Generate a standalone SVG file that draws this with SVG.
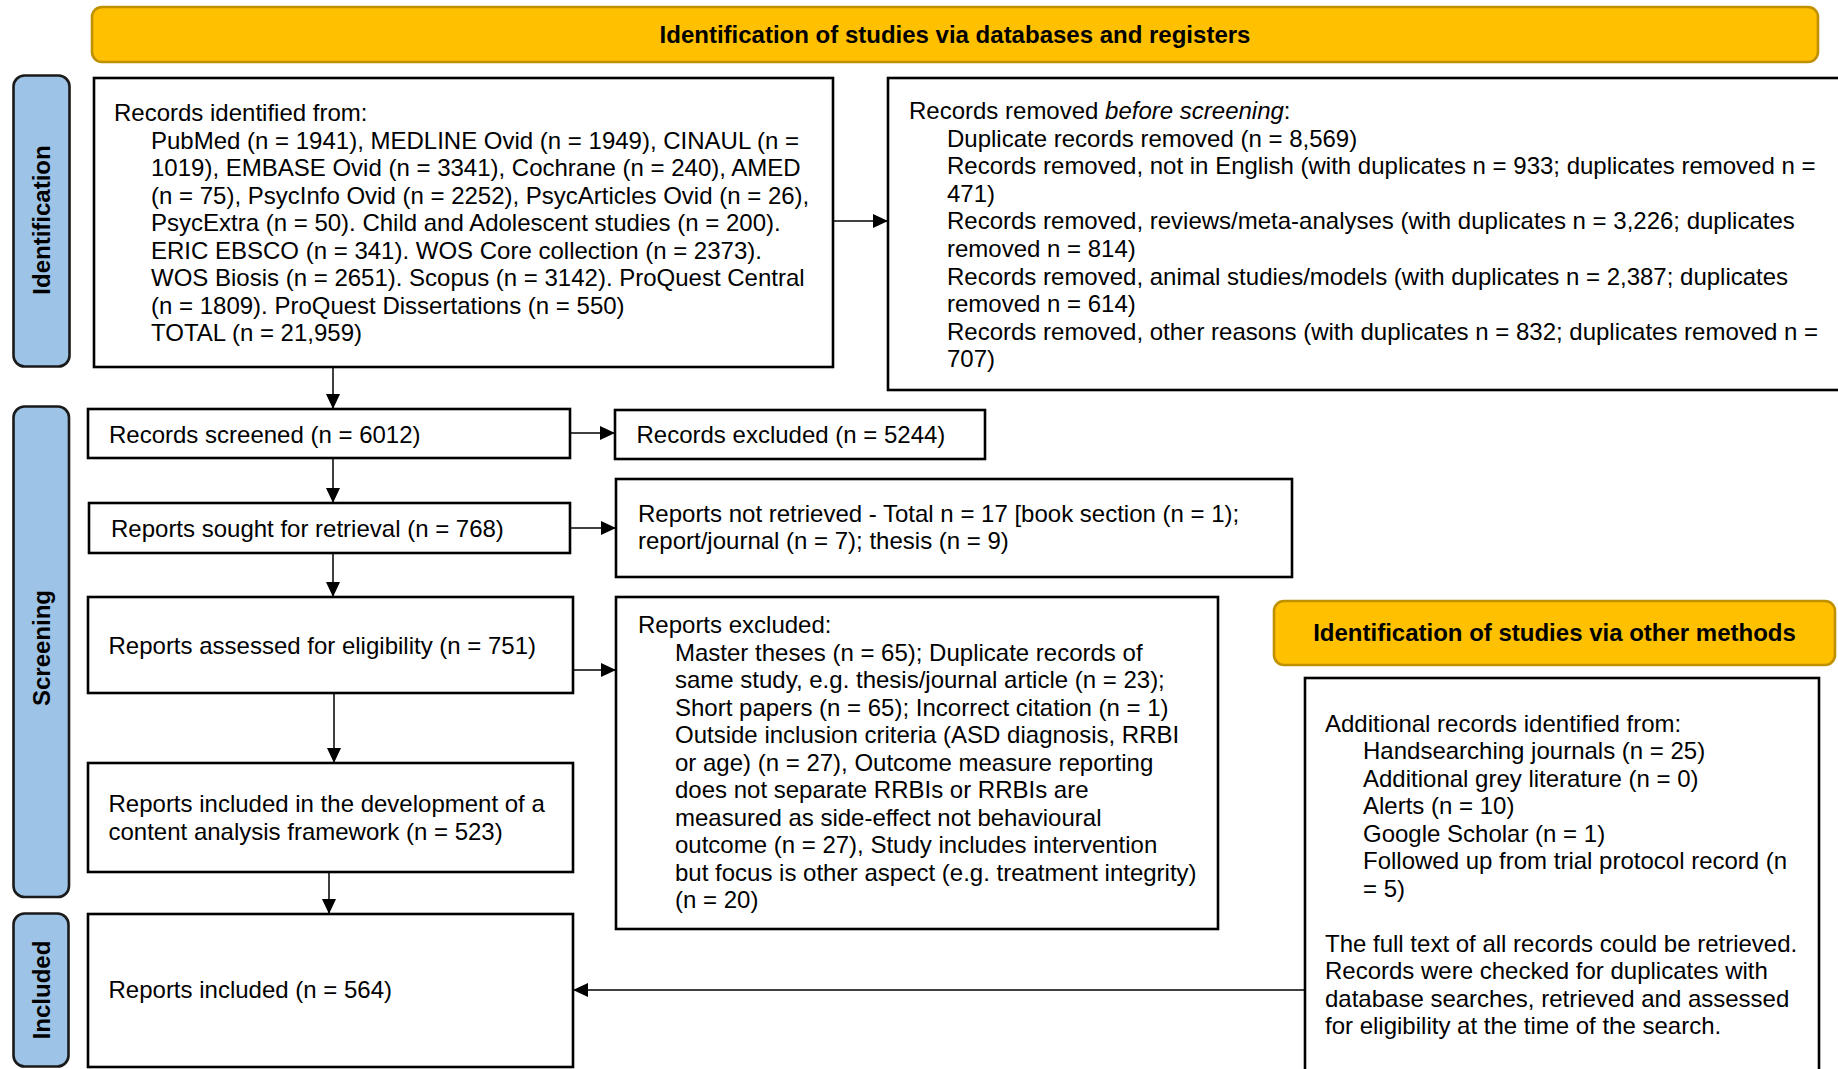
<svg xmlns="http://www.w3.org/2000/svg" width="1838" height="1069" viewBox="0 0 1838 1069">
  <style>
    .box { fill: #ffffff; stroke: #000000; stroke-width: 2.6; }
    .side { fill: #9DC3E6; stroke: #1a1a1a; stroke-width: 2.6; }
    .banner { fill: #FFC000; stroke: #BF9000; stroke-width: 2.6; }
    .t { font-family: "Liberation Sans", Arial, Helvetica, sans-serif; font-size: 24px; fill: #000000; }
    .b { font-weight: bold; }
    .mid { text-anchor: middle; }
    .conn { fill: none; stroke: #000000; stroke-width: 1.5; marker-end: url(#arrow); }
  </style>
  <defs>
    <marker id="arrow" markerUnits="userSpaceOnUse" markerWidth="15" markerHeight="14" refX="15" refY="7" orient="auto">
      <path d="M0,0 L15,7 L0,14 Z" fill="#000000"/>
    </marker>
  </defs>
  <rect width="1838" height="1069" fill="#ffffff"/>

  <!-- Section headers -->
  <g id="header-databases">
    <rect class="banner" x="92" y="7" width="1726" height="55" rx="10"/>
    <text class="t b mid" x="955" y="43">Identification of studies via databases and registers</text>
  </g>
  <g id="header-other">
    <rect class="banner" x="1274" y="601" width="561" height="64" rx="10"/>
    <text class="t b mid" x="1554.5" y="641">Identification of studies via other methods</text>
  </g>

  <!-- Phase labels -->
  <g id="phase-identification">
    <rect class="side" x="13.5" y="75.5" width="56" height="291" rx="11"/>
    <text class="t b mid" transform="translate(50,220) rotate(-90)">Identification</text>
  </g>
  <g id="phase-screening">
    <rect class="side" x="13.5" y="406.5" width="55.5" height="490.5" rx="11"/>
    <text class="t b mid" transform="translate(50,648) rotate(-90)">Screening</text>
  </g>
  <g id="phase-included">
    <rect class="side" x="13.5" y="913.5" width="55" height="153" rx="11"/>
    <text class="t b mid" transform="translate(50,990) rotate(-90)">Included</text>
  </g>

  <!-- Flow nodes -->
  <g id="records-identified">
    <rect class="box" x="94" y="78" width="739" height="289"/>
    <text class="t">
      <tspan x="114" y="121">Records identified from:</tspan>
      <tspan x="151" y="148.5">PubMed (n = 1941), MEDLINE Ovid (n = 1949), CINAUL (n =</tspan>
      <tspan x="151" y="176">1019), EMBASE Ovid (n = 3341), Cochrane (n = 240), AMED</tspan>
      <tspan x="151" y="203.5">(n = 75), PsycInfo Ovid (n = 2252), PsycArticles Ovid (n = 26),</tspan>
      <tspan x="151" y="231">PsycExtra (n = 50). Child and Adolescent studies (n = 200).</tspan>
      <tspan x="151" y="258.5">ERIC EBSCO (n = 341). WOS Core collection (n = 2373).</tspan>
      <tspan x="151" y="286">WOS Biosis (n = 2651). Scopus (n = 3142). ProQuest Central</tspan>
      <tspan x="151" y="313.5">(n = 1809). ProQuest Dissertations (n = 550)</tspan>
      <tspan x="151" y="341">TOTAL (n = 21,959)</tspan>
    </text>
  </g>

  <g id="records-removed">
    <rect class="box" x="888" y="78" width="970" height="312"/>
    <text class="t">
      <tspan x="909" y="119">Records removed <tspan font-style="italic">before screening</tspan>:</tspan>
      <tspan x="947" y="146.6">Duplicate records removed (n = 8,569)</tspan>
      <tspan x="947" y="174.2">Records removed, not in English (with duplicates n = 933; duplicates removed n =</tspan>
      <tspan x="947" y="201.8">471)</tspan>
      <tspan x="947" y="229.4">Records removed, reviews/meta-analyses (with duplicates n = 3,226; duplicates</tspan>
      <tspan x="947" y="257">removed n = 814)</tspan>
      <tspan x="947" y="284.6">Records removed, animal studies/models (with duplicates n = 2,387; duplicates</tspan>
      <tspan x="947" y="312.2">removed n = 614)</tspan>
      <tspan x="947" y="339.8">Records removed, other reasons (with duplicates n = 832; duplicates removed n =</tspan>
      <tspan x="947" y="367.4">707)</tspan>
    </text>
  </g>

  <g id="records-screened">
    <rect class="box" x="88" y="409" width="482" height="49"/>
    <text class="t" x="109" y="442.5">Records screened (n = 6012)</text>
  </g>

  <g id="records-excluded">
    <rect class="box" x="615" y="410" width="370" height="49"/>
    <text class="t" x="636.5" y="443">Records excluded (n = 5244)</text>
  </g>

  <g id="reports-sought">
    <rect class="box" x="89" y="503" width="481" height="50"/>
    <text class="t" x="111" y="536.5">Reports sought for retrieval (n = 768)</text>
  </g>

  <g id="reports-not-retrieved">
    <rect class="box" x="616" y="479" width="676" height="98"/>
    <text class="t">
      <tspan x="638" y="521.5">Reports not retrieved - Total n = 17 [book section (n = 1);</tspan>
      <tspan x="638" y="549">report/journal (n = 7); thesis (n = 9)</tspan>
    </text>
  </g>

  <g id="reports-assessed">
    <rect class="box" x="88" y="597" width="485" height="96"/>
    <text class="t" x="108.5" y="653.5">Reports assessed for eligibility (n = 751)</text>
  </g>

  <g id="reports-excluded">
    <rect class="box" x="616" y="597" width="602" height="332"/>
    <text class="t">
      <tspan x="638" y="633">Reports excluded:</tspan>
      <tspan x="675" y="660.5">Master theses (n = 65); Duplicate records of</tspan>
      <tspan x="675" y="688">same study, e.g. thesis/journal article (n = 23);</tspan>
      <tspan x="675" y="715.5">Short papers (n = 65); Incorrect citation (n = 1)</tspan>
      <tspan x="675" y="743">Outside inclusion criteria (ASD diagnosis, RRBI</tspan>
      <tspan x="675" y="770.5">or age) (n = 27), Outcome measure reporting</tspan>
      <tspan x="675" y="798">does not separate RRBIs or RRBIs are</tspan>
      <tspan x="675" y="825.5">measured as side-effect not behavioural</tspan>
      <tspan x="675" y="853">outcome (n = 27), Study includes intervention</tspan>
      <tspan x="675" y="880.5">but focus is other aspect (e.g. treatment integrity)</tspan>
      <tspan x="675" y="908">(n = 20)</tspan>
    </text>
  </g>

  <g id="reports-framework">
    <rect class="box" x="88" y="763" width="485" height="109"/>
    <text class="t">
      <tspan x="108.5" y="811.5">Reports included in the development of a</tspan>
      <tspan x="108.5" y="839.5">content analysis framework (n = 523)</tspan>
    </text>
  </g>

  <g id="reports-included">
    <rect class="box" x="88" y="914" width="485" height="153"/>
    <text class="t" x="108.5" y="998">Reports included (n = 564)</text>
  </g>

  <g id="additional-records">
    <rect class="box" x="1305" y="678" width="514" height="420"/>
    <text class="t">
      <tspan x="1325" y="731.5">Additional records identified from:</tspan>
      <tspan x="1363" y="759">Handsearching journals (n = 25)</tspan>
      <tspan x="1363" y="786.5">Additional grey literature (n = 0)</tspan>
      <tspan x="1363" y="814">Alerts (n = 10)</tspan>
      <tspan x="1363" y="841.5">Google Scholar (n = 1)</tspan>
      <tspan x="1363" y="869">Followed up from trial protocol record (n</tspan>
      <tspan x="1363" y="896.5">= 5)</tspan>
      <tspan x="1325" y="951.5">The full text of all records could be retrieved.</tspan>
      <tspan x="1325" y="979">Records were checked for duplicates with</tspan>
      <tspan x="1325" y="1006.5">database searches, retrieved and assessed</tspan>
      <tspan x="1325" y="1034">for eligibility at the time of the search.</tspan>
    </text>
  </g>

  <!-- Connectors -->
  <g id="connectors">
    <path class="conn" d="M333,367 V409"/>
    <path class="conn" d="M333,458 V503"/>
    <path class="conn" d="M333,553 V597"/>
    <path class="conn" d="M334,693 V763"/>
    <path class="conn" d="M329,872 V914"/>
    <path class="conn" d="M833,221 H888"/>
    <path class="conn" d="M570,433 H615"/>
    <path class="conn" d="M570,528 H616"/>
    <path class="conn" d="M573,670 H616"/>
    <path class="conn" d="M1305,990 H573"/>
  </g>
</svg>
